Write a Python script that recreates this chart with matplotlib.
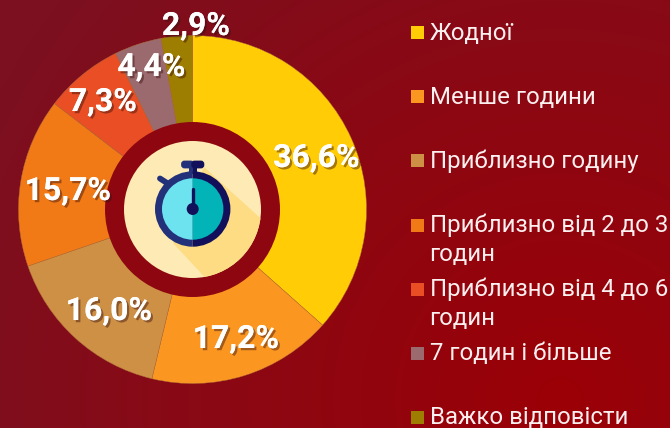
import matplotlib
matplotlib.use("Agg")
import matplotlib.pyplot as plt
import matplotlib.patheffects as pe
from matplotlib.patches import Circle, Wedge, Polygon, Rectangle, FancyBboxPatch
import numpy as np

# data
categories = ["Жодної", "Менше години", "Приблизно годину",
              "Приблизно від 2 до 3\nгодин", "Приблизно від 4 до 6\nгодин",
              "7 годин і більше", "Важко відповісти"]
values = [36.6, 17.2, 16.0, 15.7, 7.3, 4.4, 2.9]
colors = ["#FFCC05", "#FB9720", "#CD9044", "#F17A17", "#E94E24", "#9B6A6E", "#9E7E00"]

# layout, in picture pixels (y down)
W, H = 670, 428
label_xy = [(316.5, 158), (236, 339), (109, 311), (68, 191), (103, 102), (151.5, 67), (196, 26)]
legend_box_y = [32.5, 96.5, 160.5, 225, 289, 353, 417.5]
legend_base_y = [40, 104, 167.7, 232, 296, 360, 423.5]
line_gap = 29

plt.rcParams['font.family'] = ['Roboto', 'DejaVu Sans']

def Y(y):
    return H - y

fig = plt.figure(figsize=(W / 100, H / 100), dpi=100)
ax = fig.add_axes([0, 0, 1, 1])

# background: dark plum corners, brighter red low on the right
yy, xx = np.mgrid[0:H, 0:W]
dist = np.sqrt((xx - 560) ** 2 + (yy - 400) ** 2) / 640
dist = np.clip(dist, 0, 1)
c0 = np.array([0x9B, 0x00, 0x06]) / 255
c1 = np.array([0x7C, 0x10, 0x20]) / 255
bg = c0 + (c1 - c0) * dist[..., None]
ax.imshow(bg, extent=[0, W, 0, H], origin="upper", aspect="auto", zorder=0)

# donut slices
ax.pie(values, colors=colors, startangle=90, counterclock=False,
       center=(192.5, Y(209.5)), radius=174, frame=False,
       wedgeprops=dict(linewidth=0.3, edgecolor="#b0703a"))
ax.set_xlim(0, W)
ax.set_ylim(0, H)
ax.set_aspect("auto")
ax.axis("off")

# centre ring and icon
cx, cy = 192.5, Y(209.5)
ax.add_patch(Circle((cx, cy), 87.5, fc="#8E0710", ec="none", zorder=3))
disc = Circle((cx, cy), 68.5, fc="#FDEAB4", ec="none", zorder=4)
ax.add_patch(disc)
shadow = Polygon([(204, Y(167)), (268, Y(225)), (268, Y(290)), (212, Y(285)), (173, Y(243))],
                 fc="#FDDC84", ec="none", zorder=5)
ax.add_patch(shadow)
shadow.set_clip_path(disc)

navy_l, navy_r = "#22317A", "#12105A"
ax.add_patch(Rectangle((188.7, Y(174)), 4, 8, fc=navy_l, ec="none", zorder=6))
ax.add_patch(Rectangle((192.7, Y(174)), 4, 8, fc=navy_r, ec="none", zorder=6))
ax.add_patch(FancyBboxPatch((182.5, Y(167)), 10.2, 5, boxstyle="round,pad=0,rounding_size=2",
                            fc=navy_l, ec=navy_l, lw=2, zorder=6))
ax.add_patch(FancyBboxPatch((192.7, Y(167)), 10.2, 5, boxstyle="round,pad=0,rounding_size=2",
                            fc=navy_r, ec=navy_r, lw=2, zorder=6))
ax.plot([160, 167], [Y(178.5), Y(183)], color=navy_l, lw=4.2, solid_capstyle="round", zorder=6)

wx, wy = 192.7, Y(209)
ax.add_patch(Wedge((wx, wy), 37.7, 90, 270, fc=navy_l, ec="none", zorder=7))
ax.add_patch(Wedge((wx, wy), 37.7, -90, 90, fc=navy_r, ec="none", zorder=7))
ax.add_patch(Wedge((wx, wy), 30.7, 90, 270, fc="#6EE3F0", ec="none", zorder=8))
ax.add_patch(Wedge((wx, wy), 30.7, -90, 90, fc="#02B3B8", ec="none", zorder=8))
ax.plot([wx, wx], [Y(188.5), Y(209)], color=navy_r, lw=2.4, solid_capstyle="round", zorder=9)
ax.add_patch(Circle((wx, wy), 6, fc=navy_r, ec="none", zorder=9))

# percent labels with soft shadow down and right
shadow_fx = [pe.withSimplePatchShadow(offset=(1.6, -1.6), shadow_rgbFace="#3a1010", alpha=0.45),
             pe.Normal()]
for v, (x, y) in zip(values, label_xy):
    ax.text(x, Y(y), f"{v:.1f}%".replace(".", ","), color="white", fontsize=23,
            fontweight="bold", ha="center", va="center", zorder=10, path_effects=shadow_fx)

# legend, drawn by hand: long lines run off the right edge
for name, col, by, ty in zip(categories, colors, legend_box_y, legend_base_y):
    ax.add_patch(Rectangle((411, Y(by + 6.5)), 13, 13, fc=col, ec="none", zorder=6))
    for k, line in enumerate(name.split("\n")):
        ax.text(429.5, Y(ty + k * line_gap), line, color="#FBEFEF", fontsize=17.25,
                ha="left", va="baseline", zorder=6, clip_on=True)

fig.savefig("out.png", dpi=100)
